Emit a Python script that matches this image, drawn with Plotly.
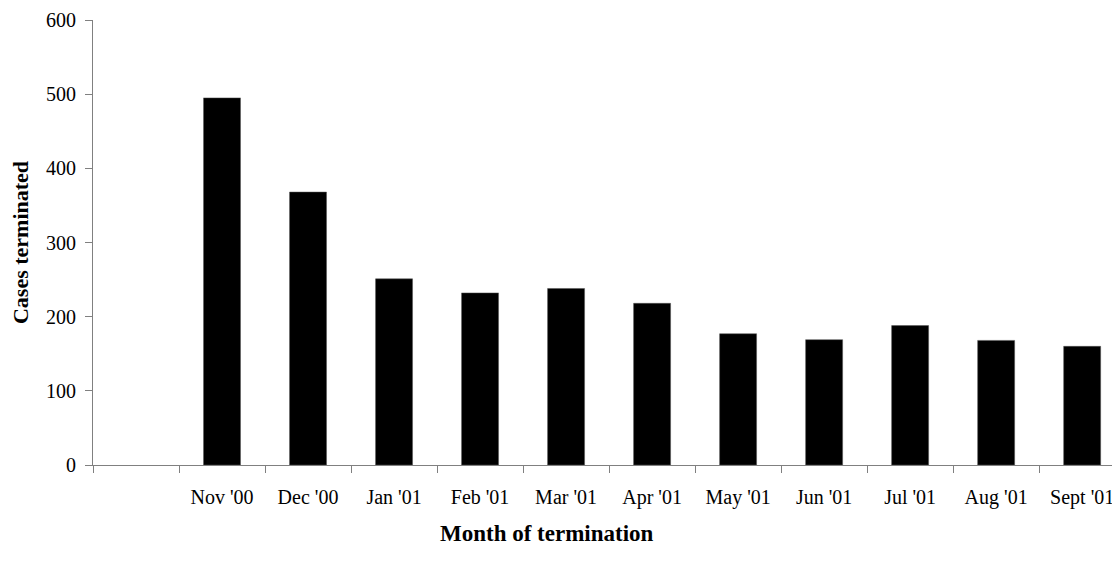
import plotly.graph_objects as go

# data
months = [" ", "Nov '00", "Dec '00", "Jan '01", "Feb '01", "Mar '01", "Apr '01",
          "May '01", "Jun '01", "Jul '01", "Aug '01", "Sept '01"]
cases = [None, 495, 368, 251, 232, 238, 218, 177, 169, 188, 168, 160]
y_ticks = [0, 100, 200, 300, 400, 500, 600]

serif = "Liberation Serif, Times New Roman, serif"

fig = go.Figure()
fig.add_trace(go.Bar(x=months, y=cases, width=0.43,
                     marker=dict(color="black", line=dict(color="#555555", width=0.5))))

# page body has an 8px margin, so the figure is sized/offset to compensate
fig.update_layout(
    width=1112, height=559,
    margin=dict(l=85, r=0, t=12, b=102),
    paper_bgcolor="white", plot_bgcolor="white",
    showlegend=False,
    font=dict(family=serif, size=20, color="black"),
)
fig.update_xaxes(
    type="category", categoryorder="array", categoryarray=months,
    range=[-0.5, 11.44],
    tickson="boundaries", ticks="outside", ticklen=7, tickcolor="#808080", tickwidth=1,
    ticklabelstandoff=14,
    showline=True, linecolor="#808080", linewidth=1,
    showgrid=False, zeroline=False,
    tickfont=dict(family=serif, size=20),
)
fig.update_yaxes(
    range=[0, 600], tickvals=y_ticks,
    ticks="outside", ticklen=7, tickcolor="#808080", tickwidth=1,
    ticklabelstandoff=5,
    showline=True, linecolor="#808080", linewidth=1,
    showgrid=False, zeroline=False,
    tickfont=dict(family=serif, size=20),
    title=dict(text="<b>Cases terminated</b>", font=dict(family=serif, size=22), standoff=18),
)
fig.add_annotation(text="<b>Month of termination</b>", xref="paper", yref="paper",
                   x=0.442, y=-0.155, xanchor="center", yanchor="middle",
                   showarrow=False, font=dict(family=serif, size=23))

fig.write_html("out.html")
